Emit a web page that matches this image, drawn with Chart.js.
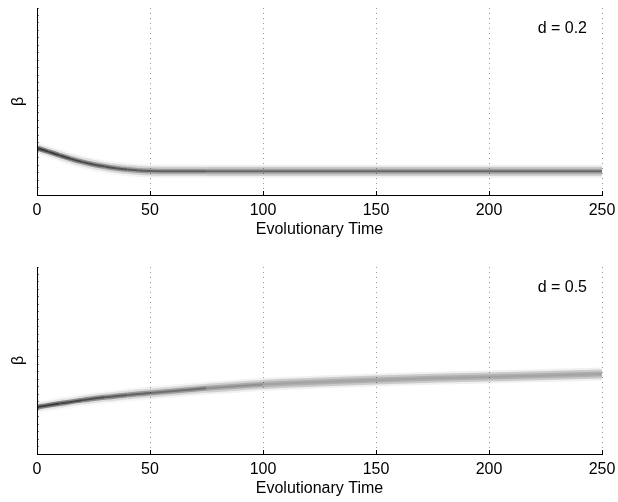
<!DOCTYPE html>
<html>
<head>
<meta charset="utf-8">
<script src="https://cdn.jsdelivr.net/npm/chart.js@4.4.1/dist/chart.umd.min.js"></script>
<style>
  html, body { margin: 0; padding: 0; background: #fff; }
  body { width: 618px; height: 502px; position: relative; overflow: hidden; }
  canvas { position: absolute; left: 0; }
  #c1 { top: 0; }
  #c2 { top: 259px; }
</style>
</head>
<body>
<canvas id="c1" width="618" height="243"></canvas>
<canvas id="c2" width="618" height="243"></canvas>
<script>
// evolutionary time samples and mean beta
const timesTop = [0, 5, 10, 15, 20, 25, 30, 35, 40, 45, 50, 75, 100, 150, 200, 250];
const betaTop = [0.251, 0.232, 0.212, 0.193, 0.177, 0.163, 0.152, 0.143, 0.136, 0.131, 0.129, 0.127, 0.127, 0.127, 0.127, 0.127];

const timesBottom = [0, 10, 20, 30, 40, 50, 75, 100, 125, 150, 175, 200, 225, 250];
const betaBottom = [0.251, 0.270, 0.288, 0.303, 0.316, 0.326, 0.352, 0.372, 0.385, 0.396, 0.405, 0.412, 0.420, 0.428];

const xTicks = [0, 50, 100, 150, 200, 250];
const panelLabels = ['d = 0.2', 'd = 0.5'];

const FONT = '"Liberation Sans", Arial, Helvetica, sans-serif';

const panelText = {
  id: 'panelText',
  afterDraw(chart, args, opts) {
    const { ctx, chartArea } = chart;
    ctx.save();
    ctx.font = '16px ' + FONT;
    ctx.fillStyle = '#000';
    ctx.textAlign = 'right';
    ctx.textBaseline = 'middle';
    ctx.fillText(opts.text, chartArea.right - 15, chartArea.top + 21);
    ctx.restore();
  }
};

// band drawn as a few stacked lines; darker where the distribution is tight
function bandSets(times, vals, fade, mid, core) {
  const pts = times.map((t, i) => ({ x: t, y: vals[i] }));
  const alpha = (x, a0, a1) => {
    const k = Math.min(1, x / fade);
    return a0 + (a1 - a0) * k;
  };
  const layer = (w, a0, a1) => ({
    data: pts,
    borderWidth: w,
    pointRadius: 0,
    cubicInterpolationMode: 'monotone',
    borderColor: 'rgba(0,0,0,' + a1 + ')',
    segment: {
      borderColor: c => 'rgba(0,0,0,' + alpha(c.p0.parsed.x, a0, a1).toFixed(3) + ')'
    }
  });
  return [layer(13, 0.02, 0.06), layer(9, 0.08, 0.16), layer(5, 0.45, mid), layer(2, 0.55, core)];
}

function makeChart(id, times, vals, label, fade, mid, core) {
  return new Chart(document.getElementById(id), {
    type: 'line',
    data: { datasets: bandSets(times, vals, fade, mid, core) },
    plugins: [panelText],
    options: {
      responsive: false,
      animation: false,
      devicePixelRatio: 1,
      layout: { padding: { top: 8, right: 16, left: 0, bottom: 0 } },
      plugins: {
        legend: { display: false },
        tooltip: { enabled: false },
        panelText: { text: label }
      },
      scales: {
        x: {
          type: 'linear',
          min: 0,
          max: 250,
          afterBuildTicks: s => { s.ticks = xTicks.map(v => ({ value: v })); },
          afterFit: s => { s.height = 48; s.paddingLeft = 0; s.paddingRight = 0; },
          border: { display: true, color: '#000', width: 1, dash: [1, 4] },
          grid: {
            color: c => c.tick.value === 0 ? 'rgba(0,0,0,0)' : '#999',
            lineWidth: 1,
            drawTicks: true,
            tickLength: -4,
            tickColor: '#000',
            tickBorderDash: []
          },
          ticks: {
            padding: 10,
            color: '#000',
            font: { family: FONT, size: 16 },
            maxRotation: 0
          },
          title: {
            display: true,
            text: 'Evolutionary Time',
            color: '#000',
            font: { family: FONT, size: 16 },
            padding: { top: 0, bottom: 4 }
          }
        },
        y: {
          type: 'linear',
          min: 0,
          max: 1,
          afterFit: s => { s.width = 37; },
          border: { display: true, color: '#000', width: 1 },
          grid: {
            drawOnChartArea: false,
            drawTicks: true,
            tickLength: -2,
            tickColor: '#777'
          },
          ticks: { display: false, stepSize: 0.04 },
          title: {
            display: true,
            text: 'β',
            color: '#000',
            font: { family: FONT, size: 16 },
            padding: { top: 9, bottom: 0 }
          }
        }
      }
    }
  });
}

makeChart('c1', timesTop, betaTop, panelLabels[0], 60, 0.2, 0.35);
makeChart('c2', timesBottom, betaBottom, panelLabels[1], 90, 0.14, 0.06);
</script>
</body>
</html>
